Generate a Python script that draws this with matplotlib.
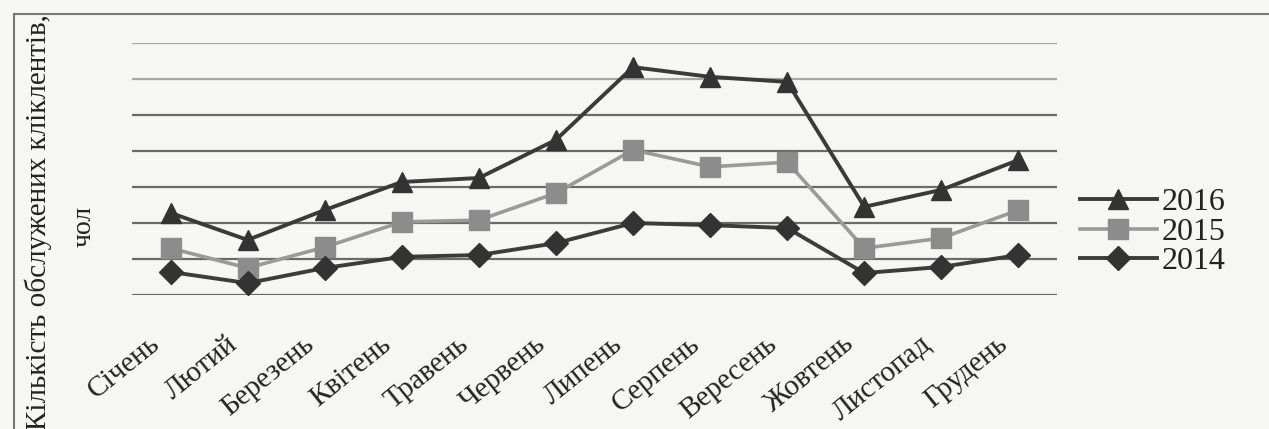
import matplotlib
matplotlib.use("Agg")
import matplotlib.pyplot as plt
import matplotlib.transforms as mtransforms
from matplotlib.lines import Line2D

months = ["Січень", "Лютий", "Березень", "Квітень", "Травень", "Червень",
          "Липень", "Серпень", "Вересень", "Жовтень", "Листопад", "Грудень"]
v2016 = [2.28, 1.53, 2.36, 3.14, 3.25, 4.31, 6.33, 6.06, 5.92, 2.45, 2.92, 3.75]
v2015 = [1.30, 0.75, 1.33, 2.03, 2.08, 2.83, 4.03, 3.56, 3.69, 1.30, 1.58, 2.36]
v2014 = [0.64, 0.33, 0.75, 1.06, 1.11, 1.44, 2.00, 1.94, 1.86, 0.61, 0.78, 1.11]
grid_levels = [0, 1, 2, 3, 4, 5, 6, 7]

plt.rcParams['font.family'] = ['Liberation Serif', 'DejaVu Serif']

W, H = 1269, 429
fig = plt.figure(figsize=(W / 100, H / 100), dpi=100, facecolor='#f6f6f4')
ax = fig.add_axes([132 / W, 1 - 295 / H, (1057 - 132) / W, (295 - 43) / H])
ax.set_facecolor('none')

x = list(range(len(months)))
for g in grid_levels:
    ax.axhline(g, color='#6a6a6a' if g < 6 else '#a8a8a8', lw=1.6, zorder=1)

l16, = ax.plot(x, v2016, color='#3a3a3a', lw=2.8, marker='^', markersize=15,
               markerfacecolor='#333333', markeredgecolor='#333333', zorder=3)
l15, = ax.plot(x, v2015, color='#9a9a9a', lw=2.6, marker='s', markersize=14,
               markerfacecolor='#8c8c8c', markeredgecolor='#8c8c8c', zorder=3)
l14, = ax.plot(x, v2014, color='#3c3c3c', lw=2.8, marker='D', markersize=12,
               markerfacecolor='#333333', markeredgecolor='#333333', zorder=3)

ax.set_xlim(-0.5, len(months) - 0.5)
ax.set_ylim(0, 7)
ax.set_yticks([])
ax.set_xticks(x)
ax.set_xticklabels(months, rotation=39, ha='right', va='top',
                   rotation_mode='anchor', fontsize=21, color='#222222')
ax.tick_params(axis='x', length=0, pad=0)
offset = mtransforms.ScaledTranslation(-22 / 100, -36 / 100, fig.dpi_scale_trans)
for lab in ax.get_xticklabels():
    lab.set_transform(lab.get_transform() + offset)
for s in ax.spines.values():
    s.set_visible(False)

leg = fig.legend([l16, l15, l14], ['2016', '2015', '2014'],
                 loc='center left', bbox_to_anchor=(1080 / W, 1 - 232 / H),
                 frameon=False, fontsize=23, handlelength=2.4,
                 handletextpad=0.15, labelspacing=0.0, borderpad=0,
                 borderaxespad=0)
for t in leg.get_texts():
    t.set_color('#222222')

fig.text(38 / W, 1 - 222 / H, 'Кількість обслужених кліклентів,', rotation=90,
         ha='center', va='center', fontsize=21, color='#222222')
fig.text(84 / W, 1 - 226 / H, 'чол', rotation=90,
         ha='center', va='center', fontsize=20, color='#222222')

fig.add_artist(Line2D([14 / W, 1], [1 - 14 / H, 1 - 14 / H], color='#777777',
                      lw=1.5, transform=fig.transFigure))
fig.add_artist(Line2D([14 / W, 14 / W], [0, 1 - 14 / H], color='#777777',
                      lw=1.5, transform=fig.transFigure))

fig.savefig('out.png', dpi=100, facecolor=fig.get_facecolor())
